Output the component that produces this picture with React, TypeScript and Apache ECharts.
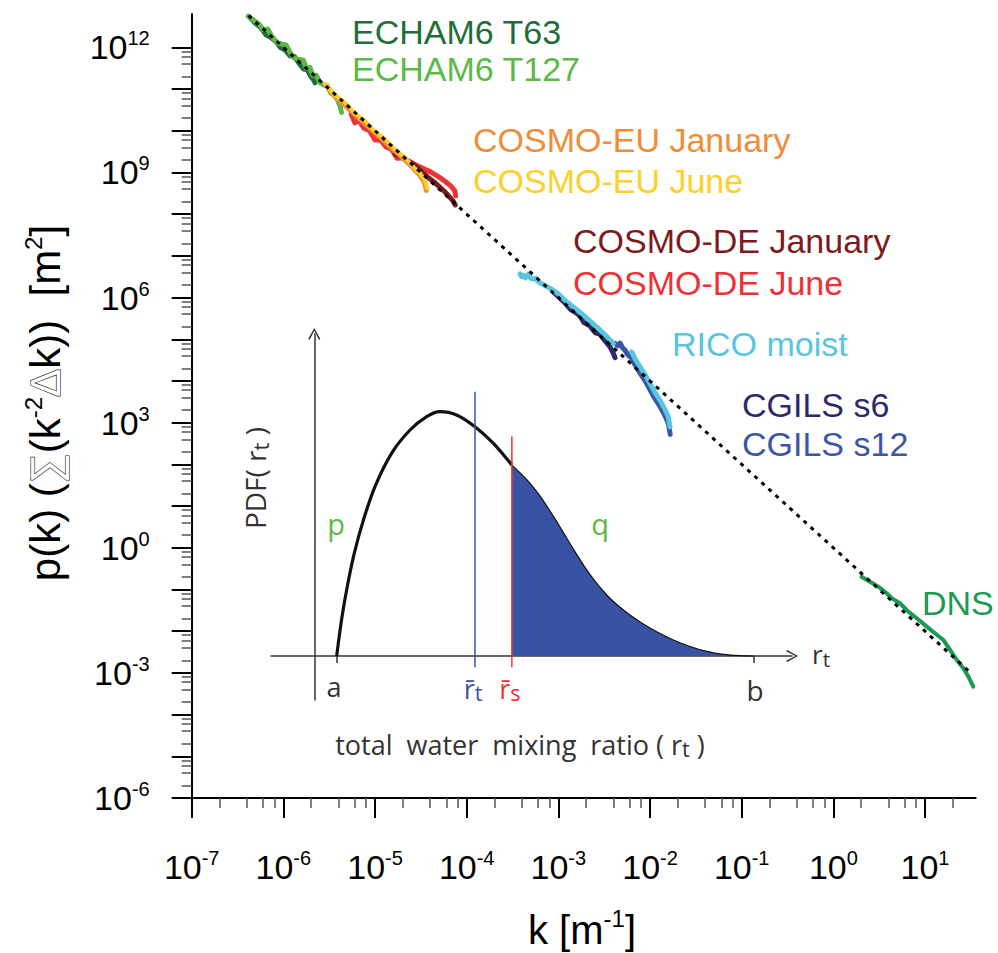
import React, { useEffect, useRef } from "react";
import * as echarts from "echarts";

// ---------- Main log-log plot (values are log10 k [1/m], log10 p(k) [m^2]) ----------
const xMajorExp = [-7, -6, -5, -4, -3, -2, -1, 0, 1];
const yMajorExp = [-6, -5, -4, -3, -2, -1, 0, 1, 2, 3, 4, 5, 6, 7, 8, 9, 10, 11, 12];
const yLabelExp = [-6, -3, 0, 3, 6, 9, 12];
const minorMantissas = [2, 4, 6, 8];
const xRange = [-7, 1.553];
const yRange = [-6, 12.8];

const echamT63 = [
  [-6.37, 12.73], [-6.31, 12.59], [-6.25, 12.48], [-6.19, 12.3], [-6.14, 12.24], [-6.08, 12.14],
  [-6.03, 11.99], [-5.98, 11.94], [-5.93, 11.8], [-5.88, 11.78], [-5.83, 11.62], [-5.78, 11.48],
  [-5.74, 11.46], [-5.7, 11.3], [-5.67, 11.22], [-5.655, 11.15],
];
const echamT127 = [
  [-6.383, 12.746], [-6.33, 12.66], [-6.27, 12.57], [-6.22, 12.42], [-6.17, 12.44], [-6.13, 12.28],
  [-6.07, 12.11], [-6.02, 12.08], [-5.97, 12.06], [-5.93, 11.89], [-5.88, 11.74], [-5.83, 11.71],
  [-5.78, 11.69], [-5.75, 11.5], [-5.71, 11.52], [-5.68, 11.33], [-5.64, 11.33], [-5.6, 11.15],
  [-5.56, 11.1], [-5.52, 11.06], [-5.48, 10.9], [-5.44, 10.86], [-5.41, 10.74], [-5.385, 10.61],
  [-5.365, 10.44],
];
const cosmoEuJan = [
  [-5.53, 11.09], [-5.45, 10.85], [-5.35, 10.65], [-5.25, 10.45], [-5.15, 10.25], [-5.05, 10.05],
  [-4.95, 9.85], [-4.85, 9.65], [-4.75, 9.45], [-4.65, 9.25], [-4.57, 9.07], [-4.51, 8.93],
  [-4.47, 8.8], [-4.45, 8.68], [-4.44, 8.57],
];
const cosmoEuJun = [
  [-5.546, 11.12], [-5.44, 10.86], [-5.33, 10.68], [-5.22, 10.42], [-5.11, 10.24], [-5.0, 9.98],
  [-4.89, 9.8], [-4.78, 9.55], [-4.67, 9.36], [-4.59, 9.15], [-4.51, 8.98], [-4.47, 8.86],
  [-4.45, 8.76], [-4.43, 8.62],
];
const cosmoDeJan = [
  [-4.78, 9.44], [-4.72, 9.38], [-4.66, 9.3], [-4.6, 9.22], [-4.54, 9.12], [-4.48, 8.99],
  [-4.42, 8.88], [-4.36, 8.78], [-4.3, 8.66], [-4.24, 8.54], [-4.19, 8.42], [-4.15, 8.32],
  [-4.125, 8.22],
];
const cosmoDeJun = [
  [-5.26, 10.4], [-5.22, 10.19], [-5.18, 10.26], [-5.12, 10.06], [-5.06, 10.0], [-5.0, 9.78],
  [-4.94, 9.78], [-4.88, 9.61], [-4.82, 9.56], [-4.76, 9.34], [-4.7, 9.35], [-4.64, 9.28],
  [-4.58, 9.21], [-4.52, 9.14], [-4.46, 9.08], [-4.4, 9.02], [-4.34, 8.94], [-4.28, 8.86],
  [-4.22, 8.76], [-4.17, 8.67], [-4.13, 8.56], [-4.12, 8.44],
];
const ricoMoistLow = [
  [-3.418, 6.57], [-3.4, 6.5], [-3.382, 6.53], [-3.36, 6.47], [-3.327, 6.56], [-3.3, 6.46],
  [-3.273, 6.44], [-3.245, 6.46], [-3.218, 6.38], [-3.164, 6.31], [-3.09, 6.22], [-3.018, 6.12],
  [-2.909, 5.9], [-2.8, 5.71], [-2.691, 5.51], [-2.582, 5.3], [-2.473, 5.07], [-2.4, 4.9],
];
const ricoMoistHigh = [
  [-2.2, 4.7], [-2.16, 4.52], [-2.109, 4.34], [-2.05, 4.14], [-2.0, 3.94], [-1.95, 3.74],
  [-1.891, 3.54], [-1.84, 3.33], [-1.8, 3.14], [-1.782, 2.9],
];
const cgilsS6 = [
  [-3.05, 6.13], [-3.0, 6.02], [-2.93, 5.88], [-2.87, 5.72], [-2.81, 5.64], [-2.764, 5.56],
  [-2.72, 5.4], [-2.655, 5.32], [-2.6, 5.16], [-2.545, 5.12], [-2.49, 4.96], [-2.436, 4.82],
  [-2.4, 4.66], [-2.382, 4.56],
];
const cgilsS12 = [
  [-2.382, 4.9], [-2.35, 4.84], [-2.327, 4.91], [-2.3, 4.8], [-2.273, 4.74], [-2.24, 4.62],
  [-2.2, 4.55], [-2.16, 4.37], [-2.109, 4.19], [-2.05, 3.99], [-2.0, 3.79], [-1.95, 3.59],
  [-1.891, 3.39], [-1.84, 3.18], [-1.8, 2.99], [-1.78, 2.72],
];
const dns = [
  [0.3065, -0.693], [0.4, -0.813], [0.491, -0.933], [0.582, -1.09], [0.637, -1.21], [0.727, -1.33],
  [0.818, -1.53], [0.91, -1.69], [1.019, -1.89], [1.109, -2.05], [1.2, -2.21], [1.273, -2.45],
  [1.346, -2.69], [1.418, -2.89], [1.473, -3.09], [1.527, -3.33],
];
const kMinus2Line = [[-6.38, 12.76], [1.51, -3.02]];

// ---------- Inset schematic PDF (arbitrary units) ----------
const insetXRange = [-0.986, 10.88];
const insetYRange = [-1.341, 9.817];
const pdfRise = [
  [0.51, 0.0], [0.62, 1.1], [0.75, 2.11], [0.91, 3.13], [1.12, 4.15], [1.38, 5.16], [1.76, 6.18],
  [2.18, 6.89], [2.56, 7.3], [2.86, 7.45], [3.24, 7.35], [3.66, 6.99], [4.08, 6.48], [4.5, 5.82],
];
const pdfTail = [
  [4.5, 5.82], [4.84, 5.38], [5.14, 4.88], [5.52, 4.1], [5.9, 3.26], [6.28, 2.48], [6.66, 1.86],
  [7.04, 1.4], [7.42, 1.04], [7.8, 0.74], [8.18, 0.49], [8.56, 0.29], [8.94, 0.14], [9.32, 0.05],
  [9.7, 0.01], [10, 0.0],
];
const rtBarLine = [[3.66, -0.34], [3.66, 8.06]];
const rsBarLine = [[4.5, -0.34], [4.5, 6.69]];
const insetTicks = [0.51, 10];

const FONT = '"Liberation Sans", Arial, Helvetica, sans-serif';
const IFONT = '"Open Sans", "DejaVu Sans", sans-serif';

const minorTicks = (from: number, to: number, max: number) => {
  const out: number[] = [];
  for (let d = from; d <= to; d++) {
    for (const m of minorMantissas) {
      const v = d + Math.log10(m);
      if (v <= max) out.push(v);
    }
  }
  return out;
};

const powRich = {
  b: { fontSize: 34, fontFamily: FONT, color: "#000", lineHeight: 38 },
  s: { fontSize: 20, fontFamily: FONT, color: "#000", lineHeight: 10, verticalAlign: "top" },
};
const powFmt = (v: number) => `{b|10}{s|${Math.round(v)}}`;

const legendItems: [string, string, number, number][] = [
  ["ECHAM6 T63", "#1f6e3a", 352, 32],
  ["ECHAM6 T127", "#5cb948", 352, 69],
  ["COSMO-EU January", "#f28c36", 473, 140],
  ["COSMO-EU June", "#fcd02b", 473, 181],
  ["COSMO-DE January", "#7d1a1d", 573, 241],
  ["COSMO-DE June", "#ed3237", 573, 283],
  ["RICO moist", "#58c6dc", 672, 344],
  ["CGILS s6", "#2b2a6d", 742, 405],
  ["CGILS s12", "#3b56a6", 742, 444],
  ["DNS", "#1a9a52", 922, 603],
];

export default function App() {
  const ref = useRef<HTMLDivElement>(null);
  useEffect(() => {
    if (!ref.current) return;
    const chart = echarts.init(ref.current, null, { renderer: "svg" });

    const mainLine = (data: number[][], color: string, width = 5) => ({
      type: "line",
      xAxisIndex: 0,
      yAxisIndex: 0,
      data,
      symbol: "none",
      showSymbol: false,
      silent: true,
      lineStyle: { color, width, join: "round", cap: "round" },
    });
    const insetLine = (data: number[][], color: string, width: number, extra: any = {}) => ({
      type: "line",
      xAxisIndex: 2,
      yAxisIndex: 2,
      data,
      symbol: "none",
      showSymbol: false,
      silent: true,
      lineStyle: { color, width },
      ...extra,
    });

    const arrow = "path://M5,0 L10,9 L9,10 L5,2.2 L1,10 L0,9 Z";

    const supTok = { fontSize: 24, fontFamily: FONT, fill: "#000", lineHeight: 10, verticalAlign: "top" };
    const ttlTok = { fontSize: 42, fontFamily: FONT, fill: "#000", lineHeight: 48 };
    const symTok = { fontSize: 42, fontFamily: FONT, fill: "#fff", stroke: "#222", lineWidth: 1.3, lineHeight: 48 };

    const subRich = (size: number, color: string) => ({
      r: { fontSize: size, fontFamily: IFONT, fill: color, lineHeight: size + 4 },
      t: { fontSize: size * 0.8, fontFamily: IFONT, fill: color, lineHeight: 14, verticalAlign: "bottom" },
    });

    const textEl = (text: string, x: number, y: number, fill: string, size: number, family = FONT, align = "left") => ({
      type: "text",
      z: 100,
      silent: true,
      style: {
        text, x, y, fill, fontSize: size, fontFamily: family,
        align, textAlign: align, verticalAlign: "middle", textVerticalAlign: "middle",
      },
    });

    const option: any = {
      animation: false,
      backgroundColor: "#fff",
      grid: [
        { left: 191.7, top: 14, right: 22.3, bottom: 155, containLabel: false, outerBoundsMode: "none" },
        { left: 271, top: 334, right: 998 - 792, bottom: 953 - 700, containLabel: false, outerBoundsMode: "none" },
      ],
      xAxis: [
        {
          type: "value", gridIndex: 0, min: xRange[0], max: xRange[1],
          axisLine: { show: true, onZero: false, lineStyle: { color: "#000", width: 2 } },
          splitLine: { show: false },
          axisTick: { show: true, customValues: xMajorExp, length: 20, lineStyle: { color: "#000", width: 2 } },
          axisLabel: { show: true, customValues: xMajorExp, margin: 50, formatter: powFmt, rich: powRich },
        },
        {
          type: "value", gridIndex: 0, min: xRange[0], max: xRange[1], position: "bottom",
          axisLine: { show: false, onZero: false },
          splitLine: { show: false },
          axisTick: { show: true, customValues: minorTicks(-7, 1, xRange[1]), length: 10, lineStyle: { color: "#555", width: 1.5 } },
          axisLabel: { show: false },
        },
        {
          type: "value", gridIndex: 1, min: insetXRange[0], max: insetXRange[1],
          axisLine: { show: true, onZero: true, symbol: ["none", arrow], symbolSize: [12, 12], lineStyle: { color: "#333", width: 1.5 } },
          splitLine: { show: false },
          axisTick: { show: true, customValues: insetTicks, length: 7, lineStyle: { color: "#333", width: 1.5 } },
          axisLabel: { show: false },
        },
      ],
      yAxis: [
        {
          type: "value", gridIndex: 0, min: yRange[0], max: yRange[1],
          axisLine: { show: true, onZero: false, lineStyle: { color: "#000", width: 2 } },
          splitLine: { show: false },
          axisTick: { show: true, customValues: yMajorExp, length: 20, lineStyle: { color: "#000", width: 2 } },
          axisLabel: { show: true, customValues: yLabelExp, margin: 42, formatter: powFmt, rich: powRich },
        },
        {
          type: "value", gridIndex: 0, min: yRange[0], max: yRange[1], position: "left",
          axisLine: { show: false, onZero: false },
          splitLine: { show: false },
          axisTick: { show: true, customValues: minorTicks(-6, 11, yRange[1]), length: 10, lineStyle: { color: "#555", width: 1.5 } },
          axisLabel: { show: false },
        },
        {
          type: "value", gridIndex: 1, min: insetYRange[0], max: insetYRange[1],
          axisLine: { show: true, onZero: true, symbol: ["none", arrow], symbolSize: [12, 12], lineStyle: { color: "#333", width: 1.5 } },
          splitLine: { show: false },
          axisTick: { show: false },
          axisLabel: { show: false },
        },
      ],
      series: [
        mainLine(echamT63, "#1f6e3a"),
        mainLine(echamT127, "#5cb948"),
        mainLine(cosmoDeJun, "#ed3237"),
        mainLine(cosmoDeJan, "#7d1a1d"),
        mainLine(cosmoEuJan, "#f28c36"),
        mainLine(cosmoEuJun, "#fcd02b", 4),
        mainLine(cgilsS6, "#2b2a6d"),
        mainLine(cgilsS12, "#3b56a6"),
        mainLine(ricoMoistLow, "#58c6dc"),
        mainLine(ricoMoistHigh, "#58c6dc"),
        mainLine(dns, "#1a9a52", 4),
        {
          ...mainLine(kMinus2Line, "#000", 3),
          lineStyle: { color: "#000", width: 3, type: [4, 5.5] },
        },
        insetLine(pdfTail, "#111", 1.2, { smooth: 0.3, areaStyle: { color: "#3953a4", opacity: 1 } }),
        insetLine(pdfRise, "#111", 3.2, { smooth: 0.3 }),
        insetLine(rtBarLine, "#3b55a5", 1.5),
        insetLine(rsBarLine, "#ee3131", 1.5),
      ],
      graphic: [
        ...legendItems.map(([t, c, x, y]) => textEl(t, x, y, c, 34)),
        {
          type: "text", z: 100, silent: true, x: 45, y: 403, rotation: Math.PI / 2,
          style: {
            text: "{t|p(k) (}{sym|\u2211}{t|(k}{sup|-2}{sym|\u0394}{t|k))  [m}{sup|2}{t|]}",
            x: 0, y: 0, align: "center", textAlign: "center", verticalAlign: "middle", textVerticalAlign: "middle",
            rich: { t: ttlTok, sym: symTok, sup: supTok },
          },
        },
        {
          type: "text", z: 100, silent: true,
          style: {
            text: "{t|k [m}{sup|-1}{t|]}", x: 582, y: 930,
            align: "center", textAlign: "center", verticalAlign: "middle", textVerticalAlign: "middle",
            rich: { t: { ...ttlTok, fontSize: 40 }, sup: supTok },
          },
        },
        textEl("a", 334, 686, "#333", 27, IFONT, "center"),
        textEl("b", 755, 690, "#333", 28, IFONT, "center"),
        textEl("p", 336, 523, "#5cb947", 29, IFONT, "center"),
        textEl("q", 600, 523, "#5cb947", 29, IFONT, "center"),
        {
          type: "text", z: 100, silent: true,
          style: {
            text: "{r|r\u0304}{t|t}", x: 473, y: 688, align: "center", textAlign: "center",
            verticalAlign: "middle", textVerticalAlign: "middle", rich: subRich(27, "#3b55a5"),
          },
        },
        {
          type: "text", z: 100, silent: true,
          style: {
            text: "{r|r\u0304}{t|s}", x: 510, y: 688, align: "center", textAlign: "center",
            verticalAlign: "middle", textVerticalAlign: "middle", rich: subRich(27, "#ee3131"),
          },
        },
        {
          type: "text", z: 100, silent: true,
          style: {
            text: "{r|r}{t|t}", x: 812, y: 654, align: "left", textAlign: "left",
            verticalAlign: "middle", textVerticalAlign: "middle", rich: subRich(26, "#333"),
          },
        },
        {
          type: "text", z: 100, silent: true, x: 255, y: 478, rotation: Math.PI / 2,
          style: {
            text: "{r|PDF( r}{t|t}{r| )}", x: 0, y: 0, align: "center", textAlign: "center",
            verticalAlign: "middle", textVerticalAlign: "middle", rich: subRich(28, "#333"),
          },
        },
        {
          type: "text", z: 100, silent: true,
          style: {
            text: "{r|total  water  mixing  ratio ( r}{t|t}{r| )}", x: 520, y: 744, align: "center", textAlign: "center",
            verticalAlign: "middle", textVerticalAlign: "middle", rich: subRich(27, "#333"),
          },
        },
      ],
    };

    chart.setOption(option);
    return () => chart.dispose();
  }, []);

  return (
    <div
      ref={ref}
      style={{ position: "absolute", left: 0, top: 0, width: 998, height: 953 }}
    />
  );
}
